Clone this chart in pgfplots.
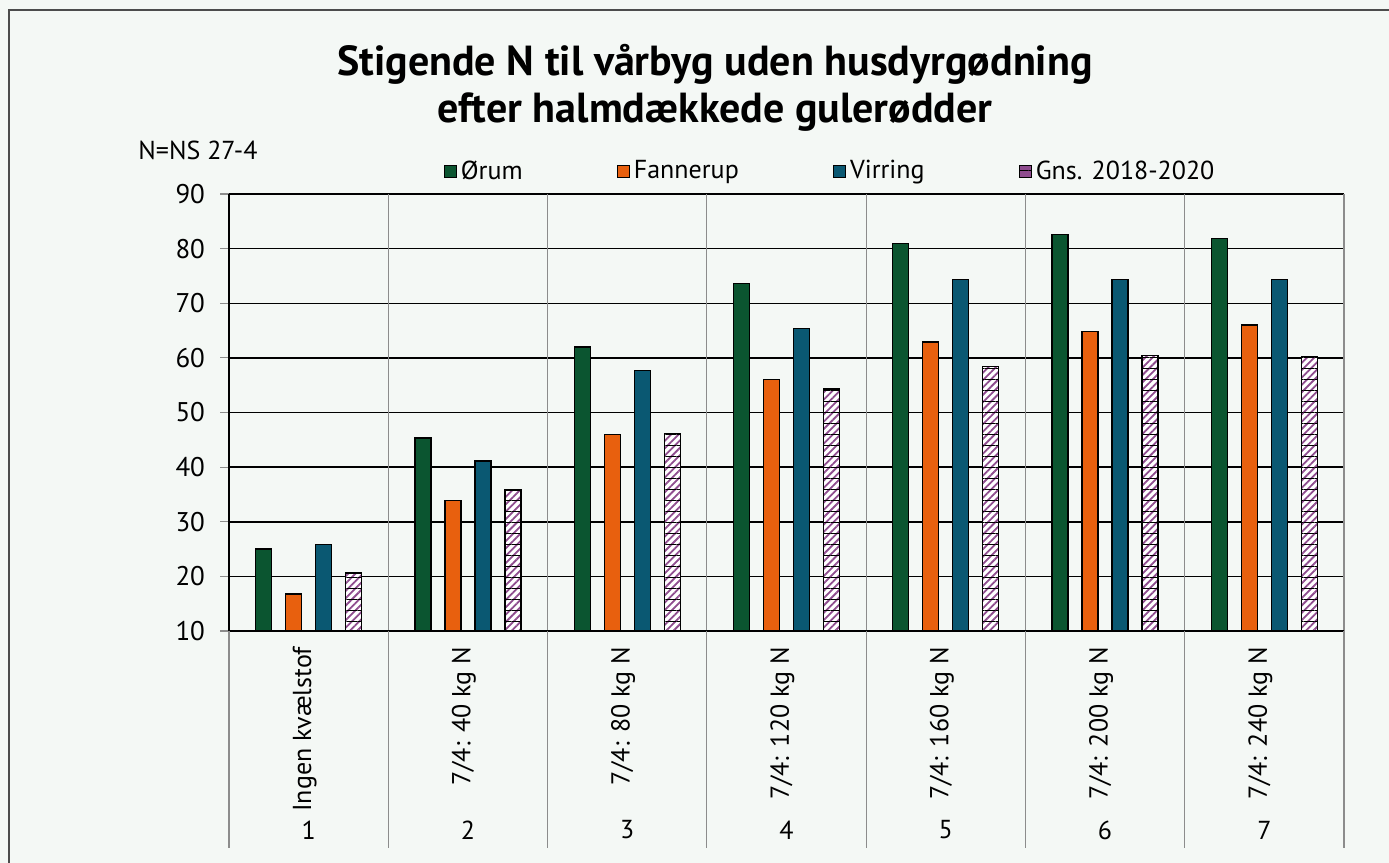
\documentclass[border=0pt]{standalone}
\usepackage{pgfplots}
\pgfplotsset{compat=1.18}
\usepackage{fontspec}
\setmainfont{PT Sans}
\usetikzlibrary{patterns.meta}
\definecolor{bg}{HTML}{F4F8F5}
\definecolor{orum}{HTML}{0B5530}
\definecolor{fann}{HTML}{E8600E}
\definecolor{virr}{HTML}{0A5872}
\definecolor{gns}{HTML}{8E4C8E}
\begin{document}
\begin{tikzpicture}[x=1pt,y=1pt]
\useasboundingbox (0,0) rectangle (694.5,431.5);
\fill[bg] (0,0) rectangle (694.5,431.5);
\begin{scope}
\clip (0,0) rectangle (694.5,431.5);
\draw[black!70, line width=0.7pt] (4.5,426.5) rectangle (720,-20);
\end{scope}
\node[font=\bfseries\fontsize{21}{23.5}\selectfont, align=center] at (357.5,387.5)
  {Stigende N til vårbyg uden husdyrgødning\\efter halmdækkede gulerødder};
\node[font=\fontsize{13}{15}\selectfont, anchor=west, inner sep=0pt] at (69,356.5) {N=NS 27-4};
\begin{axis}[
  at={(114.5pt,116pt)}, anchor=south west,
  scale only axis, width=557.5pt, height=218.5pt,
  xmin=0.5, xmax=7.5, ymin=10, ymax=90,
  ytick={10,20,...,90},
  xtick={1,...,7},
  xticklabels={Ingen kvælstof,7/4: 40 kg N,7/4: 80 kg N,7/4: 120 kg N,7/4: 160 kg N,7/4: 200 kg N,7/4: 240 kg N},
  xticklabel style={rotate=90, anchor=east, font=\fontsize{13}{15}\selectfont},
  x tick label style={yshift=2pt},
  yticklabel style={font=\fontsize{13.5}{16}\selectfont, xshift=-4pt},
  /pgf/number format/assume math mode=true,
  ytick pos=left, xtick pos=bottom,
  tick align=outside,
  major x tick style={draw=none},
  major y tick style={black!45, line width=0.6pt},
  major tick length=4.5pt,
  extra x ticks={0.5,1.5,...,7.5},
  extra x tick labels={},
  extra x tick style={grid=major, major grid style={black!45, line width=0.6pt}, major tick length=0pt},
  ymajorgrids,
  major y grid style={black, line width=0.75pt},
  axis line style={draw=none},
  ybar=7pt, bar width=8pt,
  axis background/.style={fill=bg},
  legend columns=4,
  legend style={at={(0.540,1.052)}, anchor=center, draw=none, fill=none,
    font=\fontsize{13}{15}\selectfont,
    /tikz/every even column/.append style={column sep=45pt}},
  legend cell align=left,
  legend image code/.code={\draw[#1, line width=0.6pt] (0pt,-3pt) rectangle (6pt,3pt);},
]
\addplot[draw=black, line width=0.7pt, fill=orum] coordinates {(1,25.0) (2,45.3) (3,62.0) (4,73.6) (5,80.9) (6,82.6) (7,81.9)};
\addlegendentry{Ørum}
\addplot[draw=black, line width=0.7pt, fill=fann] coordinates {(1,16.8) (2,33.9) (3,46.0) (4,56.0) (5,62.9) (6,64.8) (7,66.0)};
\addlegendentry{Fannerup}
\addplot[draw=black, line width=0.7pt, fill=virr] coordinates {(1,25.8) (2,41.1) (3,57.7) (4,65.4) (5,74.4) (6,74.3) (7,74.3)};
\addlegendentry{Virring}
\addplot[draw=black, line width=0.7pt, fill=white,
  postaction={pattern={Lines[angle=45,distance=2.6pt,line width=0.9pt]}, pattern color=gns},
  postaction={pattern={Lines[angle=0,distance=5.5pt,line width=0.35pt]}, pattern color=black},
  legend image code/.code={\draw[fill=gns, draw=black, line width=0.6pt] (0pt,-3pt) rectangle (6pt,3pt);}]
  coordinates {(1,20.6) (2,35.8) (3,46.2) (4,54.3) (5,58.4) (6,60.4) (7,60.2)};
\addlegendentry{Gns. 2018-2020}
\end{axis}
\draw[black, line width=0.75pt] (114.5,116) -- (114.5,334.5);
\draw[black, line width=0.9pt] (114.5,116) -- (672,116);
\foreach \i in {0,...,7} \draw[black!45, line width=0.6pt] ({114.5+\i*79.643},116) -- ({114.5+\i*79.643},7.5);
\foreach \i in {1,...,7} \node[font=\fontsize{13}{15}\selectfont] at ({114.5+(\i-0.5)*79.643},16.5) {\i};
\end{tikzpicture}
\end{document}
